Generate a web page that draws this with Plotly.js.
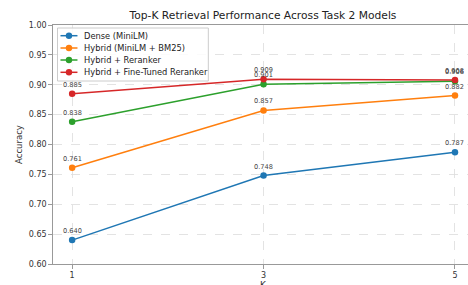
<!DOCTYPE html>
<html><head><meta charset="utf-8">
<script src="https://cdn.plot.ly/plotly-3.0.1.min.js"></script>
<style>html,body{margin:0;padding:0;background:#fff}</style>
</head><body><div id="chart" style="width:468px;height:285px"></div>
<script>
const kValues = [1, 3, 5];
const seriesNames = ["Dense (MiniLM)", "Hybrid (MiniLM + BM25)", "Hybrid + Reranker", "Hybrid + Fine-Tuned Reranker"];
const dense = [0.640, 0.748, 0.787];
const hybrid = [0.761, 0.857, 0.882];
const reranker = [0.838, 0.901, 0.906];
const fineTuned = [0.885, 0.909, 0.908];
const yTicks = [0.60, 0.65, 0.70, 0.75, 0.80, 0.85, 0.90, 0.95, 1.00];
const colors = ["#1f77b4", "#ff7f0e", "#2ca02c", "#d62728"];
const allSeries = [dense, hybrid, reranker, fineTuned];
const font = "DejaVu Sans, sans-serif";

// plot-area geometry (pixels)
const W = 468, H = 285, L = 52.5, T = 25, B = 21;
const PW = W - L, PH = H - T - B;
const px2x = px => (px - L) / PW;
const py2y = py => (H - B - py) / PH;

const traces = allSeries.map((vals, i) => ({
  x: kValues, y: vals, name: seriesNames[i], type: "scatter", mode: "lines+markers",
  line: {color: colors[i], width: 1.5}, marker: {color: colors[i], size: 6.5}
}));

const annotations = [];
allSeries.forEach(vals => vals.forEach((v, j) => annotations.push({
  x: kValues[j], y: v, text: v.toFixed(3), showarrow: false, yshift: 9,
  font: {family: font, size: 6.6, color: "#444"}
})));
annotations.push({x: kValues[1], y: 0, xref: "x", yref: "paper", yanchor: "top", yshift: -14, showarrow: false,
  text: "K", font: {family: font, size: 9, color: "#333"}});

// custom compact legend (matplotlib-style)
const shapes = [{type: "rect", xref: "paper", yref: "paper", x0: px2x(57), x1: px2x(208), y0: py2y(81), y1: py2y(28),
  fillcolor: "rgba(255,255,255,0.85)", line: {color: "#ccc", width: 1}, layer: "above"}];
const entryY = [35.7, 48, 60, 72.3];
seriesNames.forEach((name, i) => {
  const y = py2y(entryY[i]);
  shapes.push({type: "line", xref: "paper", yref: "paper", x0: px2x(60), x1: px2x(77), y0: y, y1: y,
    line: {color: colors[i], width: 1.5}, layer: "above"});
  shapes.push({type: "circle", xref: "paper", yref: "paper", xsizemode: "pixel", ysizemode: "pixel",
    xanchor: px2x(68.5), yanchor: y, x0: -3.2, x1: 3.2, y0: -3.2, y1: 3.2,
    fillcolor: colors[i], line: {color: colors[i], width: 0}, layer: "above"});
  annotations.push({xref: "paper", yref: "paper", x: px2x(82), y: y, xanchor: "left", yanchor: "middle",
    text: name, showarrow: false, font: {family: font, size: 8.3, color: "#222"}});
});

Plotly.newPlot("chart", traces, {
  width: W, height: H,
  margin: {l: L, r: 0, t: T, b: B},
  paper_bgcolor: "#fff", plot_bgcolor: "#fff",
  font: {family: font, color: "#333"},
  showlegend: false,
  title: {text: "Top-K Retrieval Performance Across Task 2 Models", font: {family: font, size: 10.7, color: "#222"},
    x: px2x(263) * PW / W + L / W, xref: "container", xanchor: "center", y: 1 - 15 / H, yref: "container", yanchor: "middle"},
  xaxis: {range: [0.8, 5.136], tickvals: kValues, ticktext: kValues.map(String), showgrid: true, gridcolor: "#dcdcdc", griddash: "dash", gridwidth: 0.8,
    showline: true, linecolor: "#999", linewidth: 1.3, mirror: true, ticks: "outside", ticklen: 3.5, tickcolor: "#999", zeroline: false,
    tickfont: {size: 8, color: "#333"}},
  yaxis: {range: [0.6, 1.0], tickvals: yTicks, ticktext: yTicks.map(v => v.toFixed(2)), showgrid: true, gridcolor: "#dcdcdc", griddash: "dash", gridwidth: 0.8,
    showline: true, linecolor: "#999", linewidth: 1.3, ticks: "outside", ticklen: 3.5, tickcolor: "#999", zeroline: false,
    tickfont: {size: 8, color: "#333"}, title: {text: "Accuracy", font: {size: 8.5, color: "#333"}, standoff: 4}},
  annotations: annotations,
  shapes: shapes
}, {displayModeBar: false, staticPlot: true});
</script></body></html>
